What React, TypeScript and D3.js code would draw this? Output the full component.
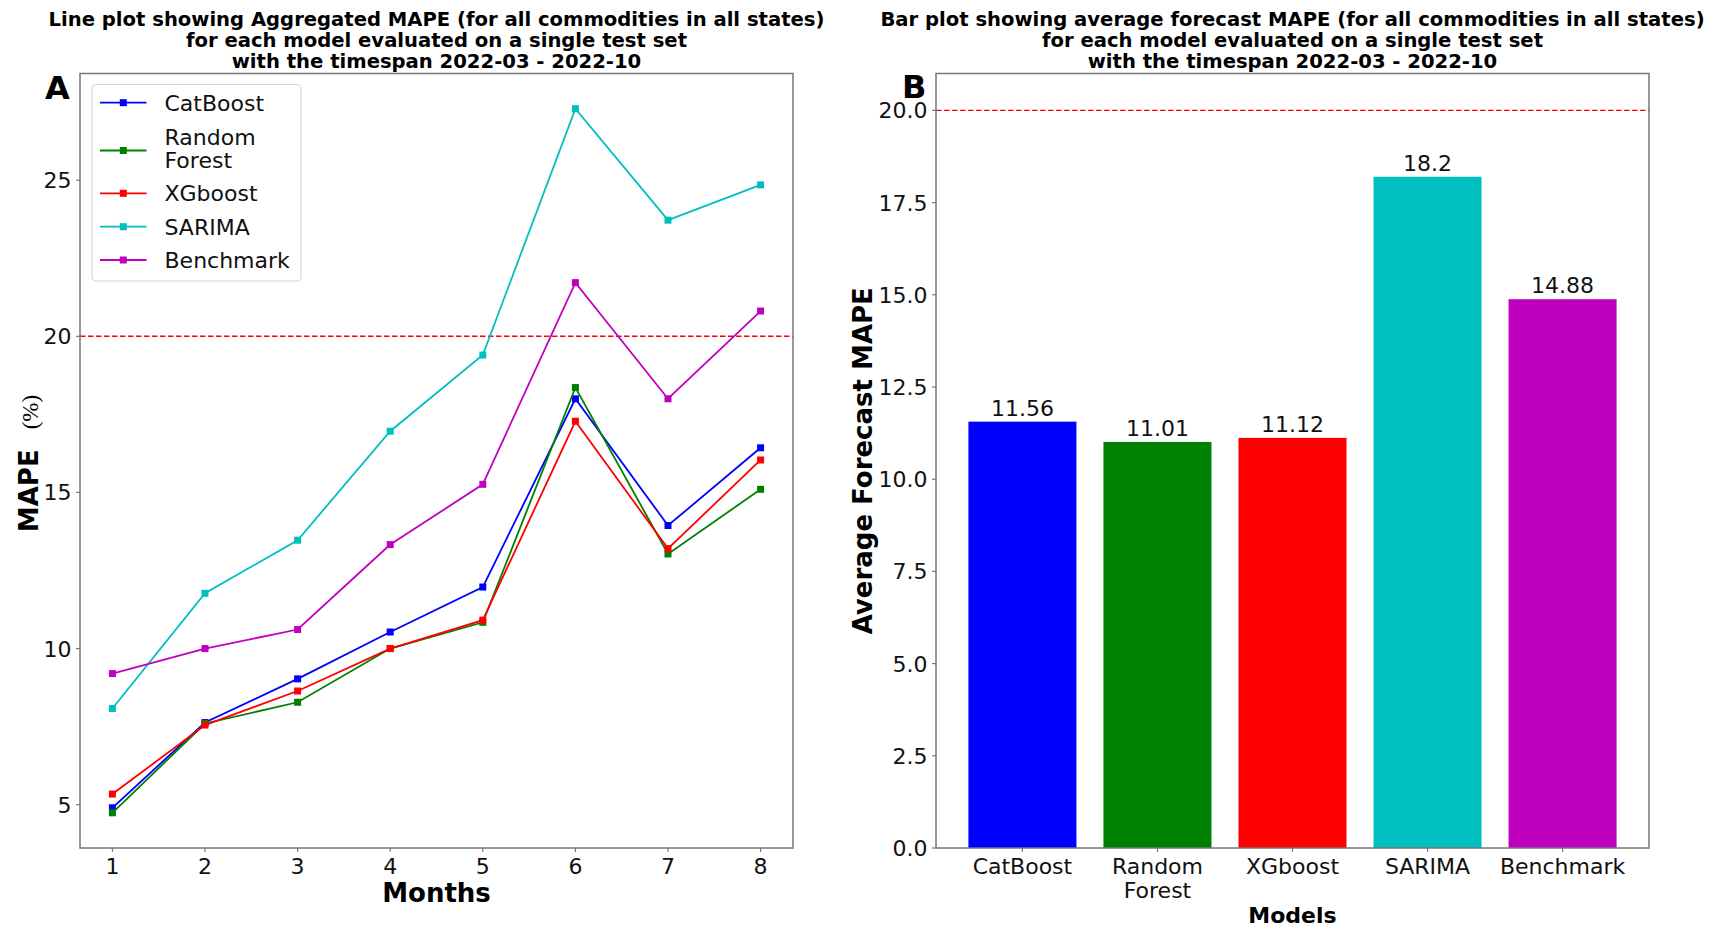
import React from 'react';
import * as d3 from 'd3';

const W = 1720;
const H = 928;

// line plot data (MAPE % per month)
const months = [1, 2, 3, 4, 5, 6, 7, 8];
const catboost = [4.9, 7.63, 9.03, 10.53, 11.97, 18.0, 13.94, 16.43];
const randomForest = [4.74, 7.6, 8.28, 10.0, 10.84, 18.36, 13.03, 15.1];
const xgboost = [5.34, 7.55, 8.64, 10.0, 10.91, 17.28, 13.2, 16.04];
const sarima = [8.08, 11.77, 13.47, 16.96, 19.4, 27.29, 23.72, 24.85];
const benchmark = [9.2, 10.0, 10.61, 13.33, 15.26, 21.72, 18.0, 20.81];

const seriesNames = ['CatBoost', 'Random\nForest', 'XGboost', 'SARIMA', 'Benchmark'];
const seriesColors = ['#0000ff', '#008000', '#ff0000', '#00bfbf', '#bf00bf'];
const seriesValues = [catboost, randomForest, xgboost, sarima, benchmark];

// bar plot data
const models = ['CatBoost', 'Random\nForest', 'XGboost', 'SARIMA', 'Benchmark'];
const avgMape = [11.56, 11.01, 11.12, 18.2, 14.88];
const avgLabels = ['11.56', '11.01', '11.12', '18.2', '14.88'];

const leftYTicks = [5, 10, 15, 20, 25];
const rightYTicks = [0, 2.5, 5, 7.5, 10, 12.5, 15, 17.5, 20];
const threshold = 20;

const leftTitle = [
  'Line plot showing Aggregated MAPE (for all commodities in all states)',
  'for each model evaluated on a single test set',
  'with the timespan 2022-03 - 2022-10',
];
const rightTitle = [
  'Bar plot showing average forecast MAPE (for all commodities in all states)',
  'for each model evaluated on a single test set',
  'with the timespan 2022-03 - 2022-10',
];

const FONT = 'DejaVu Sans, sans-serif';
const SPINE = '#777';
const TXT = '#111';

const L = { x0: 80, x1: 793, y0: 73.5, y1: 848 };
const R = { x0: 936, x1: 1649, y0: 73.5, y1: 848 };

const LinePanel = () => {
  const x = d3.scaleLinear().domain([0.65, 8.35]).range([L.x0, L.x1]);
  const all = seriesValues.flat();
  const [lo, hi] = d3.extent(all) as [number, number];
  const pad = (hi - lo) * 0.05;
  const y = d3.scaleLinear().domain([lo - pad, hi + pad]).range([L.y1, L.y0]);
  const line = d3.line<number>().x((_, i) => x(months[i])).y(d => y(d));
  const ms = 7;

  return (
    <g>
      {leftTitle.map((t, i) => (
        <text key={i} x={(L.x0 + L.x1) / 2} y={25.5 + i * 21} textAnchor="middle"
          fontFamily={FONT} fontWeight="bold" fontSize={19.6} fill="#000">{t}</text>
      ))}
      <text x={45} y={99} fontFamily={FONT} fontWeight="bold" fontSize={32} fill="#000">A</text>

      {/* threshold */}
      <line x1={L.x0} x2={L.x1} y1={y(threshold)} y2={y(threshold)}
        stroke="#ff0000" strokeWidth={1.4} strokeDasharray="5.5,2.5" />

      {seriesValues.map((vals, s) => (
        <g key={s}>
          <path d={line(vals) || ''} fill="none" stroke={seriesColors[s]} strokeWidth={1.8} />
          {vals.map((v, i) => (
            <rect key={i} x={x(months[i]) - ms / 2} y={y(v) - ms / 2} width={ms} height={ms}
              fill={seriesColors[s]} />
          ))}
        </g>
      ))}

      {/* spines */}
      <rect x={L.x0} y={L.y0} width={L.x1 - L.x0} height={L.y1 - L.y0} fill="none" stroke={SPINE} strokeWidth={1.5} />

      {/* y ticks */}
      {leftYTicks.map(t => (
        <g key={t}>
          <line x1={L.x0 - 4} x2={L.x0} y1={y(t)} y2={y(t)} stroke={SPINE} strokeWidth={1.2} />
          <text x={L.x0 - 8.5} y={y(t) + 8} textAnchor="end" fontFamily={FONT} fontSize={22} fill={TXT}>{t}</text>
        </g>
      ))}
      {/* x ticks */}
      {months.map(m => (
        <g key={m}>
          <line x1={x(m)} x2={x(m)} y1={L.y1} y2={L.y1 + 4} stroke={SPINE} strokeWidth={1.2} />
          <text x={x(m)} y={L.y1 + 25.5} textAnchor="middle" fontFamily={FONT} fontSize={22} fill={TXT}>{m}</text>
        </g>
      ))}
      <text x={(L.x0 + L.x1) / 2} y={901.5} textAnchor="middle" fontFamily={FONT} fontWeight="bold" fontSize={26} fill="#000">Months</text>
      <text transform={`translate(37.5,${463.5}) rotate(-90)`} textAnchor="middle" fill="#000">
        <tspan fontFamily={FONT} fontWeight="bold" fontSize={26}>MAPE</tspan>
        <tspan dx={20} fontFamily="Liberation Serif, DejaVu Serif, serif" fontSize={23}>(%)</tspan>
      </text>

      {/* legend */}
      <rect x={92} y={84.5} width={209} height={196.5} rx={4} fill="#fff" fillOpacity={0.8} stroke="#d6d6d6" strokeWidth={1.2} />
      {seriesNames.map((name, s) => {
        const cy = [102.7, 150.5, 193.3, 226.7, 260][s];
        const lines = name.split('\n');
        return (
          <g key={s}>
            <line x1={100} x2={146.5} y1={cy} y2={cy} stroke={seriesColors[s]} strokeWidth={1.8} />
            <rect x={123.3 - ms / 2} y={cy - ms / 2} width={ms} height={ms} fill={seriesColors[s]} />
            {lines.map((ln, k) => (
              <text key={k} x={164.5} y={cy + 8 - (lines.length - 1) * 2 + (k - (lines.length - 1) / 2) * 23.5}
                fontFamily={FONT} fontSize={22} fill={TXT}>{ln}</text>
            ))}
          </g>
        );
      })}
    </g>
  );
};

const BarPanel = () => {
  const x = d3.scaleLinear().domain([-0.64, 4.64]).range([R.x0, R.x1]);
  const y = d3.scaleLinear().domain([0, 21]).range([R.y1, R.y0]);
  const bw = x(0.8) - x(0);

  return (
    <g>
      {rightTitle.map((t, i) => (
        <text key={i} x={(R.x0 + R.x1) / 2} y={25.5 + i * 21} textAnchor="middle"
          fontFamily={FONT} fontWeight="bold" fontSize={19.6} fill="#000">{t}</text>
      ))}
      <text x={902} y={98} fontFamily={FONT} fontWeight="bold" fontSize={32} fill="#000">B</text>

      {avgMape.map((v, i) => (
        <g key={i}>
          <rect x={x(i) - bw / 2} y={y(v)} width={bw} height={y(0) - y(v)} fill={seriesColors[i]} />
          <text x={x(i)} y={y(v) - 6} textAnchor="middle" fontFamily={FONT} fontSize={22} fill={TXT}>{avgLabels[i]}</text>
        </g>
      ))}

      <line x1={R.x0} x2={R.x1} y1={y(threshold)} y2={y(threshold)}
        stroke="#ff0000" strokeWidth={1.4} strokeDasharray="5.5,2.5" />

      <rect x={R.x0} y={R.y0} width={R.x1 - R.x0} height={R.y1 - R.y0} fill="none" stroke={SPINE} strokeWidth={1.5} />

      {rightYTicks.map(t => (
        <g key={t}>
          <line x1={R.x0 - 4} x2={R.x0} y1={y(t)} y2={y(t)} stroke={SPINE} strokeWidth={1.2} />
          <text x={R.x0 - 8.5} y={y(t) + 8} textAnchor="end" fontFamily={FONT} fontSize={22} fill={TXT}>{d3.format('.1f')(t)}</text>
        </g>
      ))}
      {models.map((m, i) => (
        <g key={i}>
          <line x1={x(i)} x2={x(i)} y1={R.y1} y2={R.y1 + 4} stroke={SPINE} strokeWidth={1.2} />
          {m.split('\n').map((ln, k) => (
            <text key={k} x={x(i)} y={R.y1 + 25.5 + k * 24.5} textAnchor="middle" fontFamily={FONT} fontSize={22} fill={TXT}>{ln}</text>
          ))}
        </g>
      ))}
      <text x={(R.x0 + R.x1) / 2} y={923} textAnchor="middle" fontFamily={FONT} fontWeight="bold" fontSize={22} fill="#000">Models</text>
      <text transform={`translate(872,${(R.y0 + R.y1) / 2}) rotate(-90)`} textAnchor="middle"
        fontFamily={FONT} fontWeight="bold" fontSize={26} fill="#000">Average Forecast MAPE</text>
    </g>
  );
};

export default function App() {
  return (
    <svg width={W} height={H} viewBox={`0 0 ${W} ${H}`}
      style={{ position: 'absolute', left: 0, top: 0, background: '#fff' }}>
      <rect width={W} height={H} fill="#fff" />
      <LinePanel />
      <BarPanel />
    </svg>
  );
}
